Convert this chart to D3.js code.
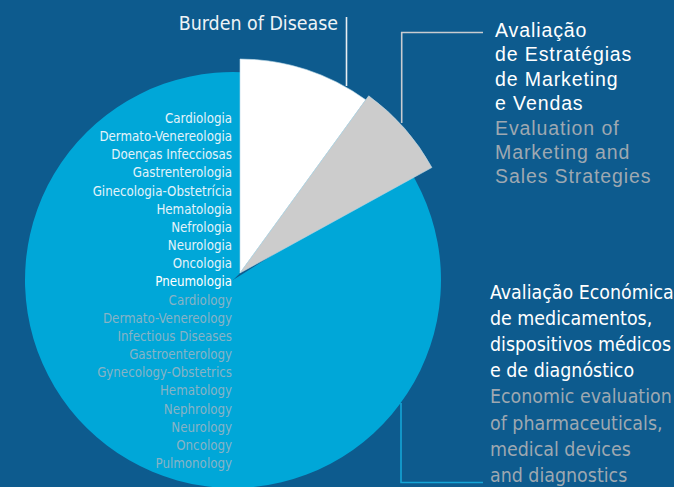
<!DOCTYPE html>
<html>
<head>
<meta charset="utf-8">
<script src="https://cdn.jsdelivr.net/npm/d3@7"></script>
<style>
  body { margin: 0; background: #0d5b8e; }
  svg { display: block; }
  .narrow { font-family: "Liberation Sans Narrow", "DejaVu Sans Condensed", "Roboto Condensed", sans-serif; }
  .wide { font-family: "Liberation Sans", Arial, sans-serif; }
</style>
</head>
<body>
<div id="chart"></div>
<script>
// slices, clockwise from 12 o'clock
var segments = ["Burden of Disease", "Marketing e Vendas", "Avaliação Económica"];
var shares = [10, 7, 83];

// therapeutic areas written inside the big slice
var areasPt = ["Cardiologia", "Dermato-Venereologia", "Doenças Infecciosas", "Gastrenterologia",
  "Ginecologia-Obstetrícia", "Hematologia", "Nefrologia", "Neurologia", "Oncologia", "Pneumologia"];
var areasEn = ["Cardiology", "Dermato-Venereology", "Infectious Diseases", "Gastroenterology",
  "Gynecology-Obstetrics", "Hematology", "Nephrology", "Neurology", "Oncology", "Pulmonology"];

var marketingPt = ["Avaliação", "de Estratégias", "de Marketing", "e Vendas"];
var marketingEn = ["Evaluation of", "Marketing and", "Sales Strategies"];
var economicPt = ["Avaliação Económica", "de medicamentos,", "dispositivos médicos", "e de diagnóstico"];
var economicEn = ["Economic evaluation", "of pharmaceuticals,", "medical devices", "and diagnostics"];

var w = 674, h = 487;
var cx = 233, cy = 280;
var colors = ["#ffffff", "#cccccc", "#00a7d8"];
var radius = [214, 219, 208];
var shift = [[7, -7], [7, -7], [0, 0]]; // first two slices pulled out

var svg = d3.select('#chart').append('svg').attr('width', w).attr('height', h);
svg.append('rect').attr('width', w).attr('height', h).attr('fill', '#0d5b8e');

var pie = d3.pie().sort(null).value(function(d){ return d; });
var arcs = pie(shares);

// draw big slice first so the pulled-out ones sit on top
// (big slice tucked under its neighbours so no gap shows near the centre)
var order = [2, 0, 1];
order.forEach(function(i){
  var a = Object.assign({}, arcs[i]);
  if (i == 2) { a.startAngle -= 0.06; a.endAngle += 0.8; }
  svg.append('path')
    .attr('transform', 'translate(' + (cx + shift[i][0]) + ',' + (cy + shift[i][1]) + ')')
    .attr('d', d3.arc().innerRadius(0).outerRadius(radius[i])(a))
    .attr('fill', colors[i])
    .attr('stroke', i == 2 ? 'none' : '#b9d6e6')
    .attr('stroke-width', 0.6);
});

// labels inside the big slice
var y = d3.scalePoint().domain(d3.range(areasPt.length + areasEn.length)).range([123, 468]);
var areaText = svg.append('g').attr('class', 'narrow').attr('font-size', 13.2).attr('text-anchor', 'end');
areasPt.concat(areasEn).forEach(function(t, i){
  areaText.append('text')
    .attr('x', cx - 1).attr('y', y(i))
    .attr('fill', i < areasPt.length ? (i == areasPt.length - 1 ? '#ffffff' : '#e4f3fa') : '#87b3c6')
    .text(t);
});

// Burden of Disease callout
svg.append('text').attr('class', 'narrow')
  .attr('x', 338).attr('y', 30).attr('text-anchor', 'end')
  .attr('font-size', 19.4).attr('fill', '#eef3f6')
  .text(segments[0]);
svg.append('line').attr('x1', 346.5).attr('x2', 346.5).attr('y1', 17).attr('y2', 86)
  .attr('stroke', '#e8eef2').attr('stroke-width', 1.6);

// Marketing callout
svg.append('path').attr('d', 'M401.7,123 V32.5 H483')
  .attr('fill', 'none').attr('stroke', '#c9ccd0').attr('stroke-width', 1.6);
var mk = svg.append('g').attr('class', 'wide').attr('font-size', 19.5).attr('letter-spacing', 0.9);
marketingPt.concat(marketingEn).forEach(function(t, i){
  mk.append('text').attr('x', 495).attr('y', 37 + i * 24.4)
    .attr('fill', i < marketingPt.length ? '#ffffff' : '#9ea8b1')
    .text(t);
});

// Economic evaluation callout
svg.append('path').attr('d', 'M401,403 V482.5 H483')
  .attr('fill', 'none').attr('stroke', '#14a5d6').attr('stroke-width', 1.6);
var ec = svg.append('g').attr('class', 'narrow').attr('font-size', 19.4);
economicPt.concat(economicEn).forEach(function(t, i){
  ec.append('text').attr('x', 490).attr('y', 298.5 + i * 26.2)
    .attr('fill', i < economicPt.length ? '#ffffff' : '#9ea8b1')
    .text(t);
});
</script>
</body>
</html>
